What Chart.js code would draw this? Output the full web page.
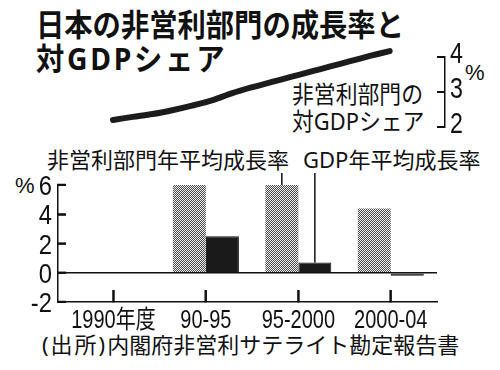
<!DOCTYPE html>
<html lang="ja">
<head>
<meta charset="UTF-8">
<title>日本の非営利部門の成長率と対GDPシェア</title>
<script src="https://cdn.jsdelivr.net/npm/chart.js@4"></script>
<style>
  body{ margin:0; background:#fff; }
  #wrap{ position:relative; width:500px; height:370px; overflow:hidden; color:#111;
         font-family:'Noto Sans', 'Noto Sans CJK JP', sans-serif; }
  #wrap canvas{ position:absolute; left:0; }
  .txt{ position:absolute; white-space:nowrap; line-height:1; transform-origin:0 0; }
  .title{ font-size:31px; font-weight:bold; transform:scaleX(0.913); }
  .note{ font-size:24px; transform:scaleX(0.91); }
  .label{ font-size:22px; }
  .pct{ font-family:'Liberation Sans', sans-serif; font-size:22px; }
</style>
</head>
<body>
<div id="wrap">
  <div class="txt title" style="left:36px; top:9px;">日本の非営利部門の成長率と</div>
  <div class="txt title" style="left:36px; top:43px; letter-spacing:3px;">対GDPシェア</div>
  <div class="txt note" style="left:292px; top:82px;">非営利部門の</div>
  <div class="txt note" style="left:292px; top:109px;">対GDPシェア</div>
  <div class="txt pct" style="left:465px; top:62px;">%</div>

  <div class="txt label" style="left:47px; top:148px;">非営利部門年平均成長率</div>
  <div class="txt label" style="left:303px; top:148px;">GDP年平均成長率</div>
  <div class="txt pct" style="left:15px; top:175px;">%</div>
  <div class="txt label" style="left:42px; top:333px;"><span style="letter-spacing:2px;">(出所)</span>内閣府非営利サテライト勘定報告書</div>

  <canvas id="chart-share" width="500" height="145" style="top:0;"></canvas>
  <canvas id="chart-growth" width="500" height="190" style="top:145px;"></canvas>
</div>

<script>
// top: non-profit sector share of GDP (%)
const shareYears  = [1990, 1991, 1992, 1993, 1994, 1995, 1996, 1997, 1998, 1999, 2000, 2001, 2002, 2003, 2004];
const shareValues = [2.20, 2.29, 2.37, 2.48, 2.61, 2.76, 2.96, 3.13, 3.28, 3.43, 3.58, 3.73, 3.88, 4.03, 4.17];
const shareTicks  = [2, 3, 4];

// bottom: average annual growth (%)
const periods         = ['1990年度', '90-95', '95-2000', '2000-04'];
const nonprofitGrowth = [null, 6.0, 6.0, 4.4];
const gdpGrowth       = [null, 2.5, 0.7, -0.2];
const growthTicks     = [-2, 0, 2, 4, 6];

const INK = '#111';
const TICK_FONT = "'Liberation Sans', 'Noto Sans CJK JP', sans-serif";

// short tick marks on the inner side of an axis, plus squeezed tick labels
function axisDecor(id, len, size, squeeze, gap, drop, text) {
    return {
        id: 'decor-' + id,
        afterDraw(chart) {
            const s = chart.scales[id], a = chart.chartArea, c = chart.ctx;
            const horiz = s.isHorizontal(), right = s.position === 'right';
            c.save();
            c.strokeStyle = INK;
            c.fillStyle = INK;
            c.lineWidth = 2;
            c.setLineDash([]);
            c.font = size + 'px ' + TICK_FONT;
            c.textBaseline = 'alphabetic';
            c.textAlign = horiz ? 'center' : (right ? 'left' : 'right');
            s.ticks.forEach(t => {
                const p = s.getPixelForValue(t.value);
                c.beginPath();
                if (horiz) { c.moveTo(p, a.bottom); c.lineTo(p, a.bottom - len); }
                else if (right) { c.moveTo(a.right, p); c.lineTo(a.right - len, p); }
                else { c.moveTo(a.left, p); c.lineTo(a.left + len, p); }
                c.stroke();

                let x, y;
                if (horiz) { x = p; y = a.bottom + gap; }
                else if (right) { x = a.right + gap; y = p + drop; }
                else { x = a.left - gap; y = p + drop; }
                c.save();
                c.translate(x, y);
                c.scale(squeeze, 1);
                c.fillText(text(t.value), 0, 0);
                c.restore();
            });
            c.restore();
        }
    };
}

// leader lines from the two labels down to the 95-2000 bars
const leaders = {
    id: 'leaders',
    afterDatasetsDraw(chart) {
        const c = chart.ctx;
        c.save();
        c.strokeStyle = INK;
        c.lineWidth = 1.5;
        [0, 1].forEach(i => {
            const bar = chart.getDatasetMeta(i).data[2];
            c.beginPath();
            c.moveTo(bar.x, 28);
            c.lineTo(bar.x, bar.y);
            c.stroke();
        });
        c.restore();
    }
};

Chart.defaults.animation = false;
Chart.defaults.color = INK;

new Chart(document.getElementById('chart-share'), {
    type: 'line',
    data: {
        datasets: [{
            data: shareYears.map((y, i) => ({ x: y, y: shareValues[i] })),
            borderColor: '#1c1c1c',
            borderWidth: 6,
            borderCapStyle: 'round',
            tension: 0.3,
            pointRadius: 0,
            clip: false
        }]
    },
    options: {
        responsive: false,
        layout: { padding: { left: 113, top: 57, bottom: 18, right: 0 } },
        plugins: { legend: { display: false }, tooltip: { enabled: false } },
        scales: {
            x: { type: 'linear', min: 1990, max: 2006.8, display: false },
            y: {
                position: 'right',
                min: 2, max: 4,
                afterBuildTicks: s => { s.ticks = shareTicks.map(v => ({ value: v })); },
                afterFit: s => { s.width = 55; },
                ticks: { display: false },
                grid: { drawOnChartArea: false, drawTicks: false },
                border: { color: INK, width: 1.5 }
            }
        }
    },
    plugins: [axisDecor('y', 8, 29, 0.8, 5, 6, v => String(v))]
});

const pc = document.createElement('canvas');
pc.width = pc.height = 2;
const px = pc.getContext('2d');
px.fillStyle = '#f0f0f0'; px.fillRect(0, 0, 2, 2);
px.fillStyle = '#4a4a4a'; px.fillRect(0, 0, 1, 1); px.fillRect(1, 1, 1, 1);
const dots = px.createPattern(pc, 'repeat');

new Chart(document.getElementById('chart-growth'), {
    type: 'bar',
    data: {
        datasets: [
            {
                label: '非営利部門年平均成長率',
                data: nonprofitGrowth.map((v, i) => ({ x: i, y: v })),
                backgroundColor: dots,
                categoryPercentage: 0.714,
                barPercentage: 1
            },
            {
                label: 'GDP年平均成長率',
                data: gdpGrowth.map((v, i) => ({ x: i, y: v })),
                backgroundColor: '#1a1a1a',
                borderColor: '#111',
                borderWidth: 1,
                categoryPercentage: 0.714,
                barPercentage: 1
            }
        ]
    },
    options: {
        responsive: false,
        layout: { padding: { top: 40, right: 63, left: 0, bottom: 0 } },
        plugins: { legend: { display: false }, tooltip: { enabled: false } },
        scales: {
            x: {
                type: 'linear', min: -0.6, max: 3.5, offset: false,
                afterBuildTicks: s => { s.ticks = periods.map((p, i) => ({ value: i })); },
                afterFit: s => { s.height = 33; },
                ticks: { display: false },
                // negative tick length: marks point up into the plot
                grid: {
                    drawOnChartArea: false, offset: false,
                    drawTicks: true, tickLength: -12, tickColor: INK, tickWidth: 2
                },
                border: { color: INK, width: 1.5 }
            },
            y: {
                min: -2, max: 6,
                afterBuildTicks: s => { s.ticks = growthTicks.map(v => ({ value: v })); },
                afterFit: s => { s.width = 58; },
                ticks: { display: false },
                grid: {
                    drawTicks: true, tickLength: -8, tickColor: INK, tickWidth: 2,
                    color: ctx => ctx.tick && ctx.tick.value === 0 ? INK : 'transparent',
                    lineWidth: 1.5
                },
                border: { color: INK, width: 1.5 }
            }
        }
    },
    plugins: [
        leaders,
        axisDecor('x', 12, 25, 0.8, 26, 0, v => periods[v]),
        axisDecor('y', 8, 28, 0.85, 6, 10, v => String(v))
    ]
});
</script>
</body>
</html>
